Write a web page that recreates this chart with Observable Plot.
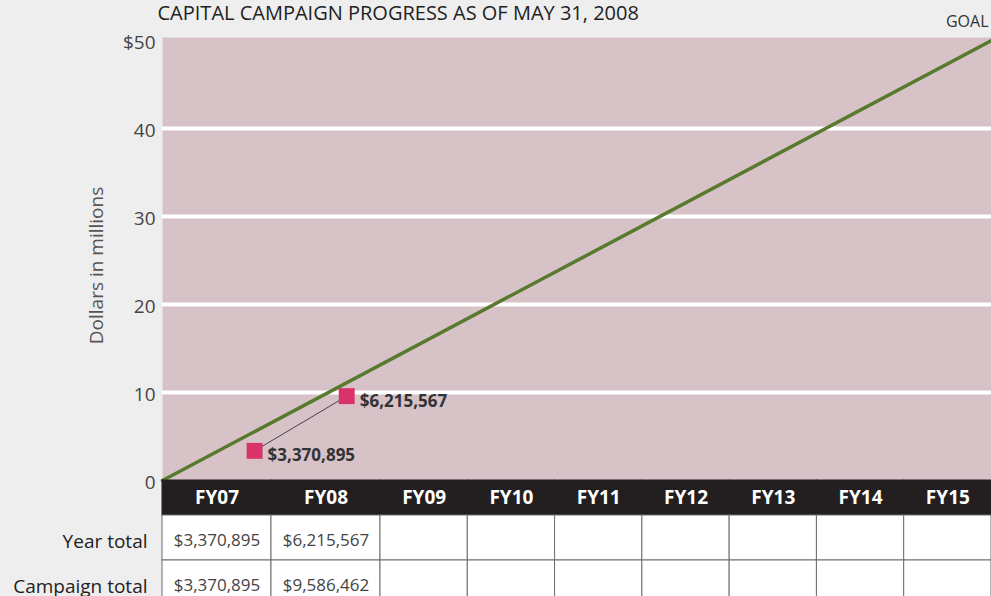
<!DOCTYPE html>
<html>
<head>
<meta charset="utf-8">
<script src="https://cdn.jsdelivr.net/npm/d3@7"></script>
<script src="https://cdn.jsdelivr.net/npm/@observablehq/plot@0.6"></script>
<style>
  html, body { margin: 0; padding: 0; background: #eeeeee; overflow: hidden; width: 991px; height: 596px; }
  #chart svg { display: block; }
</style>
</head>
<body>
<div id="chart"></div>
<script>
// ---- data ----
const titleText = "CAPITAL CAMPAIGN PROGRESS AS OF MAY 31, 2008";
const goalLabel = "GOAL";
const yAxisLabel = "Dollars in millions";
const yTicks = [0, 10, 20, 30, 40, 50];
const gridValues = [10, 20, 30, 40];
const goalYears = [2006, 2015];          // campaign start -> end of FY15
const goalMillions = [0, 50];            // $0 -> $50 million goal
const fiscalYears = ["FY07", "FY08", "FY09", "FY10", "FY11", "FY12", "FY13", "FY14", "FY15"];
const reportedYearEnd = [2007, 2008];
const yearTotals = [3370895, 6215567];
const campaignTotals = [3370895, 9586462];
const rowLabels = ["Year total", "Campaign total"];

// ---- styling ----
const font = "Open Sans";
const pink = "#d7c2c8";
const green = "#577a2e";
const crimson = "#d8346a";
const band = "#231f20";
const fmt = d3.format("$,");

const goal = goalYears.map((x, i) => ({x, y: goalMillions[i]}));
const points = reportedYearEnd.map((x, i) => ({x, y: campaignTotals[i] / 1e6, label: fmt(yearTotals[i])}));

// piecewise column scale: first two columns (with data) are wider
const colScale = () => ({type: "linear", domain: [0, 2, 9], range: [162, 380, 991], axis: null});

const main = Plot.plot({
  width: 991, height: 480,
  marginTop: 40, marginBottom: 0, marginLeft: 162, marginRight: 0,
  style: {fontFamily: font, background: "transparent", overflow: "visible"},
  x: {domain: [goalYears[0], goalYears[1]], axis: null},
  y: {domain: [0, 50], axis: null},
  marks: [
    Plot.frame({fill: pink, stroke: null, insetTop: -3}),
    Plot.ruleY(gridValues, {stroke: "white", strokeWidth: 4}),
    Plot.axisY({ticks: yTicks, tickSize: 0, tickPadding: 7, fontSize: 19, fill: "#444", dy: 2,
      tickFormat: d => d === 50 ? "$50" : String(d), label: null}),
    Plot.text([yAxisLabel], {frameAnchor: "left", textAnchor: "middle", dx: -66, dy: 5, rotate: -90,
      fontSize: 19, fill: "#555"}),
    Plot.line(goal, {x: "x", y: "y", stroke: green, strokeWidth: 3.5}),
    Plot.line(points, {x: "x", y: "y", stroke: "#444", strokeWidth: 1}),
    Plot.dot(points, {x: "x", y: "y", symbol: "square", r: 9, fill: crimson}),
    Plot.text(points, {x: "x", y: "y", text: "label", dx: 13, dy: 5, textAnchor: "start",
      fontWeight: "bold", fontSize: 17, fill: "#333"}),
    Plot.text([titleText], {frameAnchor: "top-left", dx: -5, dy: -35, textAnchor: "start",
      fontSize: 20, fill: "#222"}),
    Plot.text([goalLabel], {frameAnchor: "top-right", dx: -3, dy: -25, textAnchor: "end",
      fontSize: 16, fill: "#333"})
  ]
});

const header = Plot.plot({
  width: 991, height: 35,
  marginTop: 0, marginBottom: 0, marginLeft: 162, marginRight: 0,
  style: {fontFamily: font, background: "transparent", overflow: "visible"},
  x: colScale(),
  y: {domain: [0, 1], axis: null},
  marks: [
    Plot.rect(fiscalYears, {x1: (d, i) => i, x2: (d, i) => i + 1, y1: 0, y2: 1, fill: band, inset: -0.5}),
    Plot.text(fiscalYears, {x: (d, i) => i + 0.5, y: 0.5, text: d => d, fill: "white",
      fontWeight: "bold", fontSize: 19})
  ]
});

const cells = [];
rowLabels.forEach((row, r) => {
  fiscalYears.forEach((fy, c) => {
    const src = r === 0 ? yearTotals : campaignTotals;
    cells.push({row: r, col: c, text: src[c] !== undefined ? fmt(src[c]) : ""});
  });
});

const table = Plot.plot({
  width: 991, height: 90,
  marginTop: 0, marginBottom: 0, marginLeft: 162, marginRight: 0,
  style: {fontFamily: font, background: "transparent", overflow: "visible"},
  x: colScale(),
  y: {domain: [0, 2], range: [0, 90], axis: null},
  marks: [
    Plot.rect(cells, {x1: "col", x2: d => d.col + 1, y1: "row", y2: d => d.row + 1,
      fill: "white", stroke: "#6e6e6e", strokeWidth: 1}),
    Plot.text(cells, {x: d => d.col + 0.5, y: d => d.row + 0.5, text: "text", dy: 3,
      fontSize: 17, fill: "#444"}),
    Plot.text(rowLabels, {x: () => 0, y: (d, i) => i + 0.5, text: d => d, dx: -15, dy: 4,
      textAnchor: "end", fontSize: 19, fill: "#222"})
  ]
});

const root = document.getElementById("chart");
root.append(main, header, table);
</script>
</body>
</html>
